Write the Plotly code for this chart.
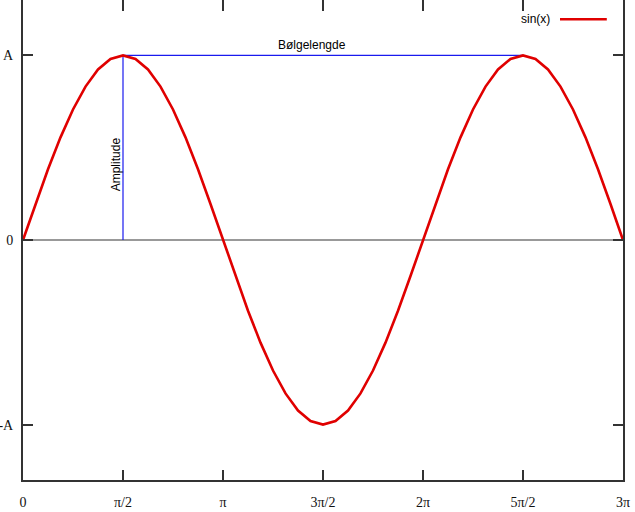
import plotly.graph_objects as go

# sample positions (degrees) and sin(x) values
x_deg = [0, 11.25, 22.5, 33.75, 45, 56.25, 67.5, 78.75, 90, 101.25, 112.5, 123.75,
         135, 146.25, 157.5, 168.75, 180, 191.25, 202.5, 213.75, 225, 236.25, 247.5,
         258.75, 270, 281.25, 292.5, 303.75, 315, 326.25, 337.5, 348.75, 360, 371.25,
         382.5, 393.75, 405, 416.25, 427.5, 438.75, 450, 461.25, 472.5, 483.75, 495,
         506.25, 517.5, 528.75, 540]
sin_y = [0, 0.195, 0.383, 0.556, 0.707, 0.831, 0.924, 0.981, 1, 0.981, 0.924, 0.831,
         0.707, 0.556, 0.383, 0.195, 0, -0.195, -0.383, -0.556, -0.707, -0.831, -0.924,
         -0.981, -1, -0.981, -0.924, -0.831, -0.707, -0.556, -0.383, -0.195, 0, 0.195,
         0.383, 0.556, 0.707, 0.831, 0.924, 0.981, 1, 0.981, 0.924, 0.831, 0.707, 0.556,
         0.383, 0.195, 0]

amp_x = [90, 90]
amp_y = [0, 1]
wave_x = [90, 450]
wave_y = [1, 1]

x_tickvals = [0, 90, 180, 270, 360, 450, 540]
x_ticktext = ["0", "π/2", "π", "3π/2", "2π", "5π/2", "3π"]
y_tickvals = [-1, 0, 1]
y_ticktext = ["-A", "0", "A"]

RED = "#e00000"
BLUE = "#1a1aee"
AX = "#333333"

fig = go.Figure()
fig.add_trace(go.Scatter(x=amp_x, y=amp_y, mode="lines",
                         line=dict(color=BLUE, width=1.2), showlegend=False, hoverinfo="skip"))
fig.add_trace(go.Scatter(x=wave_x, y=wave_y, mode="lines",
                         line=dict(color=BLUE, width=1.2), showlegend=False, hoverinfo="skip"))
fig.add_trace(go.Scatter(x=x_deg, y=sin_y, mode="lines", name="sin(x)",
                         line=dict(color=RED, width=2.6), showlegend=False))
# invisible trace to activate top axis
fig.add_trace(go.Scatter(x=[0], y=[0], xaxis="x2", mode="markers",
                         marker=dict(opacity=0), showlegend=False, hoverinfo="skip"))

tickfont = dict(family="Liberation Serif, Times New Roman, serif", size=14, color="#111")

fig.update_layout(
    width=635, height=512,
    margin=dict(l=23, r=12, t=0, b=32),
    paper_bgcolor="white", plot_bgcolor="white",
    font=dict(family="Liberation Sans, Arial, sans-serif", color="black"),
    xaxis=dict(range=[0, 540], tickmode="array", tickvals=x_tickvals, ticktext=x_ticktext,
               showgrid=False, zeroline=False, showline=True, linecolor=AX, linewidth=2,
               ticks="inside", ticklen=10, tickwidth=1.5, tickcolor=AX, mirror=False,
               ticklabelstandoff=8, automargin=False, tickfont=tickfont),
    xaxis2=dict(range=[0, 540], overlaying="x", anchor="y", side="top", tickmode="array",
                tickvals=x_tickvals, showticklabels=False, showgrid=False, zeroline=False,
                showline=False, ticks="inside", ticklen=11, tickwidth=2, tickcolor=AX,
                automargin=False),
    yaxis=dict(range=[-1.3, 1.3], tickmode="array", tickvals=y_tickvals, ticktext=y_ticktext,
               showgrid=False, zeroline=True, zerolinecolor="#999999", zerolinewidth=1.5,
               showline=True, linecolor=AX, linewidth=2, mirror="ticks",
               ticks="inside", ticklen=10, tickwidth=1.5, tickcolor=AX,
               ticklabelstandoff=5, automargin=False, tickfont=tickfont),
    showlegend=False,
)

fig.add_annotation(x=90, y=0.41, xref="x", yref="y", text="Amplitude", textangle=-90,
                   showarrow=False, xshift=-7, font=dict(size=12, color="black"))
fig.add_annotation(x=260, y=1.055, xref="x", yref="y", text="Bølgelengde",
                   showarrow=False, font=dict(size=12, color="black"))

# legend drawn gnuplot-style: text then line sample
fig.add_annotation(x=0.882, y=0.960, xref="paper", yref="paper", text="sin(x)",
                   xanchor="right", yanchor="middle", showarrow=False,
                   font=dict(size=12, color="black"))
fig.add_shape(type="line", xref="paper", yref="paper", x0=0.895, x1=0.973, y0=0.960, y1=0.960,
              line=dict(color=RED, width=2.6))

fig.write_html("out.html", config={"displayModeBar": False},
               post_script="document.body.style.margin='0';document.body.style.overflow='hidden';")
